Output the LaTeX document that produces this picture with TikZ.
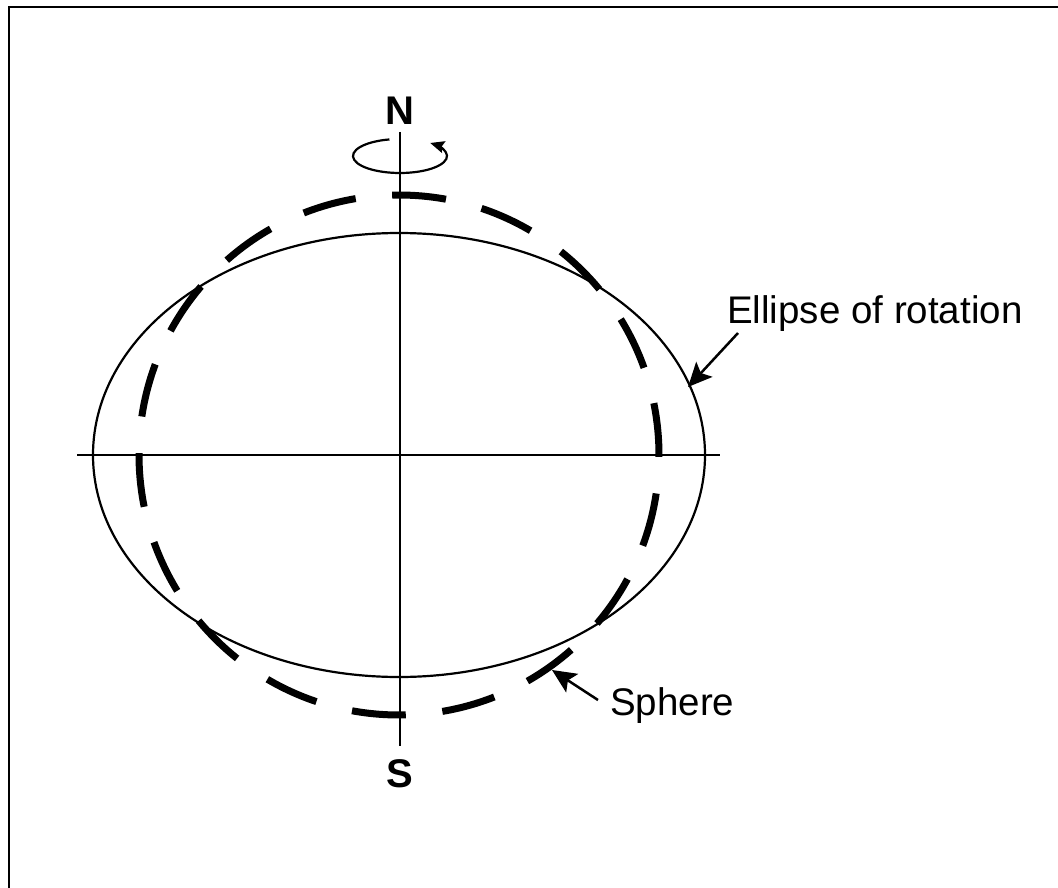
\documentclass[tikz,border=0pt]{standalone}
\usepackage{fontspec}
\setmainfont{Liberation Sans}
\usetikzlibrary{arrows.meta}
\begin{document}
\begin{tikzpicture}[x=1pt,y=1pt,
  axisline/.style={line width=1.8pt},
  frameline/.style={line width=2.7pt},
  ell/.style={line width=2.2pt},
  sph/.style={line width=7pt, dash pattern=on 54pt off 36.77pt},
  pointer/.style={line width=2.5pt,-{Stealth[length=24pt,width=22pt,inset=5pt]}},
  spin/.style={line width=2.2pt,-{Stealth[length=14pt,width=12pt,inset=2pt]}},
  lbl/.style={font=\fontsize{38.5}{44}\selectfont, inner sep=0pt, anchor=base west},
  pole/.style={font=\fontsize{40}{44}\selectfont\bfseries, inner sep=0pt, anchor=base}
]
\useasboundingbox (0,0) rectangle (1058,-888);
\draw[frameline] (9,-888) -- (9,-7) -- (1058,-7);
% axes
\draw[axisline] (77,-455) -- (720,-455);
\draw[axisline] (400,-132) -- (400,-746);
% ellipse of rotation
\draw[ell] (399,-455) ellipse[x radius=306, y radius=222];
% sphere (dashed)
\draw[sph] (399,-455) ++(91.5:260) arc[start angle=91.5, end angle=-268.5, radius=260];
% rotation arrow
\draw[spin] (400,-156) ++(103:47 and 17) arc[start angle=103, end angle=410, x radius=47, y radius=17];
% labels
\node[pole] (N) at (400,-125) {N};
\node[pole] (S) at (400,-787) {S};
\node[lbl] (elab) at (727,-323) {Ellipse of rotation};
\node[lbl] (slab) at (610,-715) {Sphere};
% pointers
\coordinate (etail) at (738,-333);
\coordinate (etip) at (688,-387);
\draw[pointer] (etail) -- (etip);
\coordinate (stail) at (598,-700);
\coordinate (stip) at (552,-670);
\draw[pointer] (stail) -- (stip);
\end{tikzpicture}
\end{document}
